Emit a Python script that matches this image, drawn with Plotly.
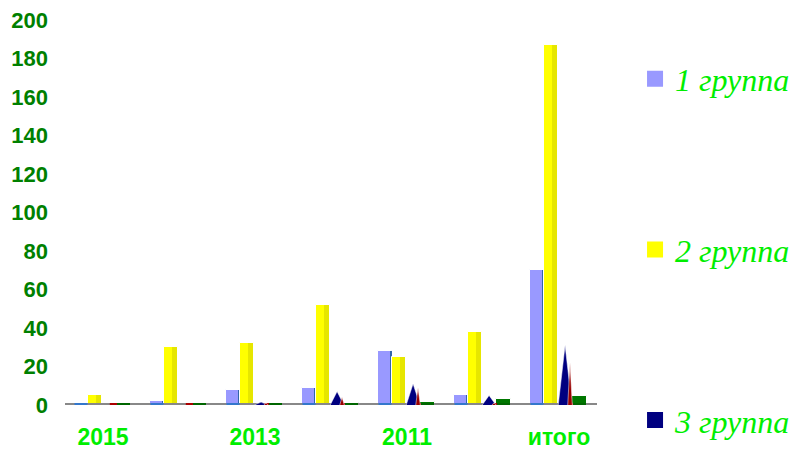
import plotly.graph_objects as go

categories = ["2015", "2014", "2013", "2012", "2011", "2010", "итого"]
tick_labels = ["2015", "", "2013", "", "2011", "", "итого"]
group1 = [0, 2, 8, 9, 28, 5, 70]
group2 = [5, 30, 32, 52, 25, 38, 187]
group3 = [0, 0, 1.5, 7, 11, 5, 31]
group4 = [0, 0, 1, 4, 9, 1, 22]
group5 = [0, 0, 0, 1, 1.5, 3, 4.5]
legend_names = ["1 группа", "2 группа", "3 группа"]

idx = list(range(len(categories)))
W = 0.19
OFF1, OFF2, OFF3, OFF4, OFF5 = -0.29, -0.105, 0.08, 0.145, 0.27

def pos(off):
    return [i + off for i in idx]

def pyramids(values, off, w):
    xs, ys = [], []
    for i, v in zip(idx, values):
        if v <= 0:
            continue
        xs += [i + off - w / 2, i + off, i + off + w / 2, None]
        ys += [0, v, 0, None]
    return xs, ys

def floor_segments(off, w):
    xs, ys = [], []
    for i in idx:
        xs += [i + off - w / 2, i + off + w / 2, None]
        ys += [0, 0, None]
    return xs, ys

fig = go.Figure()

# floor
fig.add_trace(go.Scatter(x=[-0.5, 6.5], y=[0, 0], mode="lines",
                         line=dict(color="#888888", width=4),
                         cliponaxis=False, showlegend=False, hoverinfo="skip"))
for off, col in [(OFF1, "#3377CC"), (OFF4 + 0.03, "#AA0000"), (OFF5, "#006600")]:
    fx, fy = floor_segments(off, W * 0.9)
    fig.add_trace(go.Scatter(x=fx, y=fy, mode="lines", line=dict(color=col, width=4),
                             cliponaxis=False, showlegend=False, hoverinfo="skip"))

# group 1 bars (with darker side)
fig.add_trace(go.Bar(x=pos(OFF1), y=group1, width=W, marker=dict(color="#9999FF", line=dict(color="white", width=1)),
                     showlegend=False))
fig.add_trace(go.Bar(x=pos(OFF1 + W / 2 - 0.02), y=group1, width=0.03,
                     marker=dict(color="#3366AA", line=dict(width=0)), showlegend=False, hoverinfo="skip"))
# group 2 cylinders
fig.add_trace(go.Bar(x=pos(OFF2), y=group2, width=W, marker=dict(color="#FFFF00", line=dict(color="white", width=1)),
                     showlegend=False))
fig.add_trace(go.Bar(x=pos(OFF2 + 0.05), y=group2, width=0.07,
                     marker=dict(color="#E6E600", line=dict(width=0)), showlegend=False, hoverinfo="skip"))

# group 3 pyramids
x3, y3 = pyramids(group3, OFF3, 0.18)
fig.add_trace(go.Scatter(x=x3, y=y3, mode="lines", fill="toself", fillcolor="#000080",
                         line=dict(color="white", width=0.5), showlegend=False))
# group 4 thin pyramids
x4, y4 = pyramids(group4, OFF4, 0.06)
fig.add_trace(go.Scatter(x=x4, y=y4, mode="lines", fill="toself", fillcolor="#990000",
                         line=dict(color="white", width=0.5), showlegend=False))
# group 5 boxes
fig.add_trace(go.Bar(x=pos(OFF5), y=group5, width=W, marker=dict(color="#007700", line=dict(color="white", width=1)),
                     showlegend=False))

# legend entries
for name, col in zip(legend_names, ["#9999FF", "#FFFF00", "#000080"]):
    fig.add_trace(go.Scatter(x=[None], y=[None], mode="markers", name=name, legendgroup=name,
                             marker=dict(symbol="square", size=21, color=col)))

fig.update_layout(
    width=801, height=450,
    margin=dict(l=57, r=212, t=12, b=53, autoexpand=False),
    paper_bgcolor="white", plot_bgcolor="white",
    barmode="overlay", bargap=0,
    showlegend=True,
    legend=dict(x=1.0715, y=0.918, xanchor="left", yanchor="top",
                font=dict(family="Liberation Serif", size=32, color="#00EE00", style="italic"),
                tracegroupgap=126, itemsizing="trace", bgcolor="rgba(0,0,0,0)", maxheight=600),
    xaxis=dict(range=[-0.5, 6.5], tickvals=idx, ticktext=tick_labels, showgrid=False, zeroline=False,
               showline=False, ticks="", ticklabelstandoff=16, ticklabeloverflow="allow",
               tickfont=dict(family="Liberation Sans", size=23, color="#00EE00", weight="bold")),
    yaxis=dict(range=[0, 200], dtick=20, showgrid=False, zeroline=False, showline=False, ticks="",
               ticklabelstandoff=16, ticklabeloverflow="allow",
               tickfont=dict(family="Liberation Sans", size=22, color="#008000", weight="bold")),
)

fig.write_html("out.html")
